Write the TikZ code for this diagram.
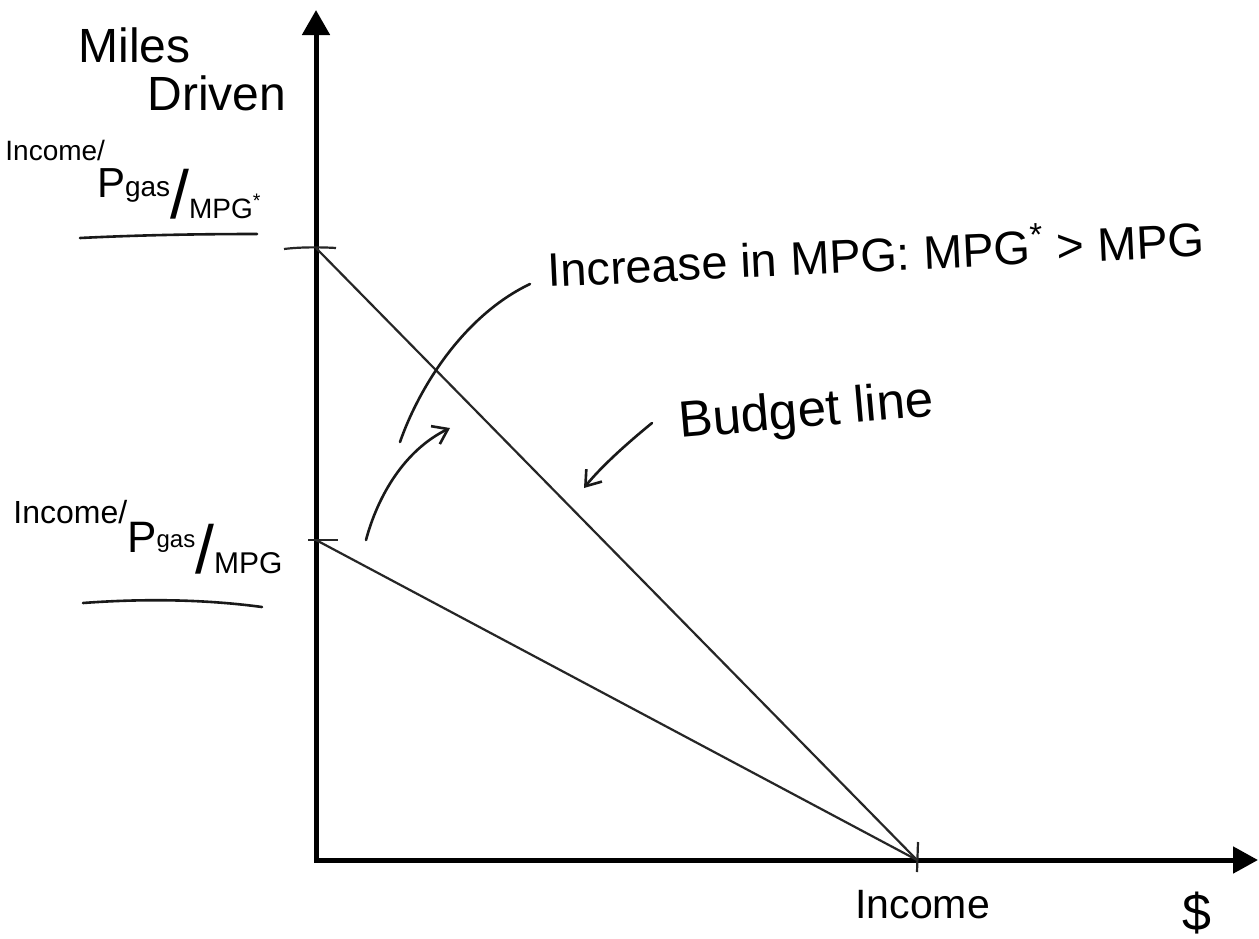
\documentclass[tikz,border=0pt]{standalone}
\usepackage{fontspec}
\setmainfont{Liberation Sans}
\usetikzlibrary{arrows.meta}
\newcommand{\fs}[1]{\fontsize{#1}{#1}\selectfont}
\begin{document}
\begin{tikzpicture}[x=0.5pt,y=-0.5pt,
  axis/.style={line width=2.5pt, black, line join=miter},
  bline/.style={line width=1.1pt, black!85},
  hand/.style={line width=1.3pt, black!90, line cap=round},
  barb/.style={-{Straight Barb[length=7pt,width=10pt]}},
  lab/.style={inner sep=0pt, text=black}]
\fill[white] (0,0) rectangle (1259,938);
\useasboundingbox (0,0) rectangle (1259,938);
% key points
\coordinate (O) at (316,860);
\coordinate (Ytop) at (316,10);
\coordinate (Xend) at (1258,860);
\coordinate (A) at (316,248);
\coordinate (B) at (316,540);
\coordinate (C) at (917,860);
% axes
\draw[axis,{Triangle[length=12.5pt,width=13.5pt]}-{Triangle[length=12.5pt,width=13pt]}] (Ytop) -- (O) -- (Xend);
% ticks
\draw[bline] (284,249) .. controls (300,247) and (320,247) .. (336,248);
\draw[bline] (308,540) -- (338,540);
\draw[bline] (918,842) -- (917,872);
% budget lines
\draw[bline] (A) -- (C);
\draw[bline] (B) -- (C);
% underlines
\draw[hand] (80,238) .. controls (140,235) and (200,234) .. (257,234);
\draw[hand] (83,603) .. controls (150,598) and (210,600) .. (262,607);
% labels
\node[lab,anchor=base west,font=\fs{24}] (miles) at (78,62) {Miles};
\node[lab,anchor=base west,font=\fs{24}] (driven) at (147,110) {Driven};
\node[lab,anchor=base west] (toplab) at (5,218)
  {\raisebox{29pt}{\fs{14}Income/}\kern-4pt\raisebox{10.5pt}{\fs{21}P}\raisebox{11pt}{\fs{14}gas}\fs{34}/\fs{14}MPG\textsuperscript{*}};
\node[lab,anchor=base west] (lowlab) at (13,573)
  {\raisebox{25pt}{\fs{16}Income/}\raisebox{10.5pt}{\fs{22}P}\raisebox{13pt}{\fs{12}gas}\fs{34}/\fs{15}MPG};
\node[lab,anchor=base west,font=\fs{20.5}] (inc) at (855,918) {Income};
\node[lab,anchor=base west,font=\fs{26}] (dollar) at (1182,930) {\$};
\node[lab,anchor=base west,font=\fs{23.5},rotate=2.7] (incr) at (548,287) {Increase in MPG: MPG\textsuperscript{*} > MPG};
\node[lab,anchor=base west,font=\fs{25.5},rotate=5] (budget) at (680,438) {Budget line};
% annotation curves
\coordinate (c1s) at (400,442);
\coordinate (c1e) at (530,284);
\draw[hand] (c1s) .. controls (420,385) and (465,315) .. (c1e);
\coordinate (a1s) at (366,540);
\coordinate (a1e) at (450,428);
\draw[hand,barb] (a1s) .. controls (378,495) and (405,450) .. (a1e);
\coordinate (a2s) at (652,423);
\coordinate (a2e) at (584,488);
\draw[hand,barb] (a2s) .. controls (625,445) and (600,468) .. (a2e);
\end{tikzpicture}
\end{document}
